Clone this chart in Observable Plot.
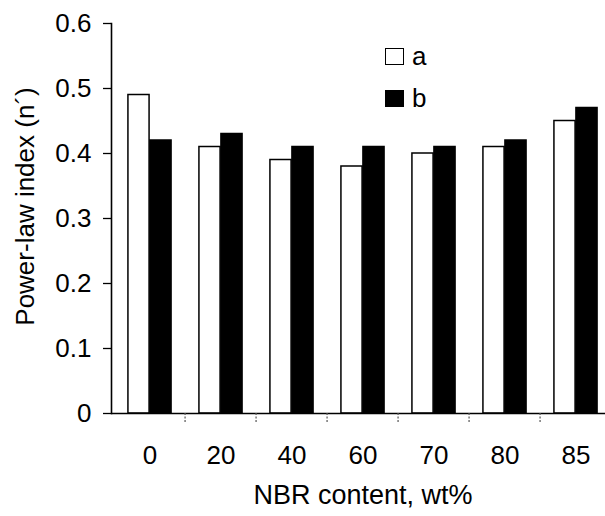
<!DOCTYPE html>
<html>
<head>
<meta charset="utf-8">
<script src="https://cdn.jsdelivr.net/npm/d3@7"></script>
<script src="https://cdn.jsdelivr.net/npm/@observablehq/plot@0.6"></script>
<style>
  html, body { margin: 0; padding: 0; background: #fff; }
  #wrap { position: relative; width: 605px; height: 516px; overflow: hidden; font-family: "Liberation Sans", Arial, sans-serif; }
  .leg { position: absolute; display: flex; align-items: center; font-size: 26px; line-height: 1; color: #000; }
  .sw { width: 19px; height: 17px; border: 1.5px solid #000; box-sizing: border-box; margin-right: 8px; }
</style>
</head>
<body>
<div id="wrap"></div>
<script>
const categories = ["0", "20", "40", "60", "70", "80", "85"];
const seriesA = [0.49, 0.41, 0.39, 0.38, 0.40, 0.41, 0.45];
const seriesB = [0.42, 0.43, 0.41, 0.41, 0.41, 0.42, 0.47];
const yTicks = [0, 0.1, 0.2, 0.3, 0.4, 0.5, 0.6];
const xLabel = "NBR content, wt%";
const yLabel = "Power-law index (n´)";
const legendNames = ["a", "b"];

const dataA = categories.map((c, i) => ({cat: c, v: seriesA[i]}));
const dataB = categories.map((c, i) => ({cat: c, v: seriesB[i]}));

const W = 605, H = 516;
const pLeft = 111, pRight = 614, pTop = 23, pBottom = 413;
const bw = (pRight - pLeft) / categories.length;
const barW = 22;

const chart = Plot.plot({
  width: W,
  height: H,
  marginLeft: pLeft,
  marginRight: W - pRight,
  marginTop: pTop,
  marginBottom: H - pBottom,
  style: {fontFamily: "Liberation Sans, Arial, sans-serif", fontSize: "26px", color: "#000", background: "#fff", overflow: "visible"},
  x: {domain: categories, padding: 0, axis: null},
  y: {domain: [0, 0.6], axis: null},
  marks: [
    Plot.barY(dataA, {x: "cat", y: "v", fill: "#fff", stroke: "#000", strokeWidth: 1.5,
      insetLeft: bw / 2 - barW, insetRight: bw / 2}),
    Plot.barY(dataB, {x: "cat", y: "v", fill: "#000", stroke: "#000", strokeWidth: 1.5,
      insetLeft: bw / 2, insetRight: bw / 2 - barW}),
    Plot.ruleY([0], {stroke: "#000", strokeWidth: 1.3}),
    Plot.frame({anchor: "left", stroke: "#000", strokeWidth: 1.6}),
    Plot.ruleX(categories.slice(1), {x: d => d, dx: -bw / 2, y1: 0, y2: 0, insetBottom: -10,
      stroke: "#555", strokeWidth: 1.2, strokeDasharray: "2,1.5"}),
    Plot.axisY({ticks: yTicks, tickSize: 8, tickPadding: 12, tickFormat: d3.format("~g"),
      fontSize: 26, label: null, strokeWidth: 1.3}),
    Plot.axisX({tickSize: 0, tickPadding: 32, fontSize: 26, label: null}),
    Plot.text([xLabel], {frameAnchor: "bottom", dy: 90, fontSize: 27, fill: "#000"}),
    Plot.text([yLabel], {frameAnchor: "left", textAnchor: "middle", rotate: -90, dx: -86, dy: -12, fontSize: 26, fill: "#000"})
  ]
});

const wrap = document.getElementById("wrap");
wrap.appendChild(chart);

const legFills = ["#fff", "#000"];
const legTops = [43, 85];
legendNames.forEach((n, i) => {
  const d = document.createElement("div");
  d.className = "leg";
  d.style.left = "385px";
  d.style.top = legTops[i] + "px";
  const s = document.createElement("span");
  s.className = "sw";
  s.style.background = legFills[i];
  const t = document.createElement("span");
  t.textContent = n;
  d.appendChild(s);
  d.appendChild(t);
  wrap.appendChild(d);
});
</script>
</body>
</html>
